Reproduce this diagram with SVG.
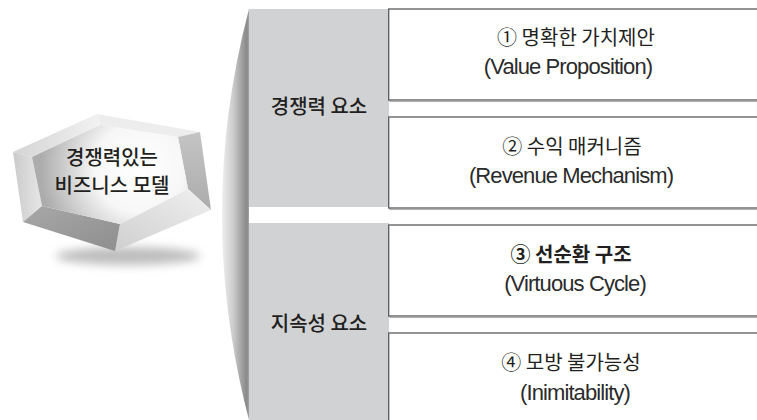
<svg xmlns="http://www.w3.org/2000/svg" width="757" height="420" viewBox="0 0 757 420">
  <defs>
    <style>
      .lbl { font-family: "Noto Sans CJK KR", "Noto Sans", sans-serif; fill: #231f20; text-anchor: middle; }
      .hexlbl { font-size: 20px; font-weight: 500; }
      .grp { font-size: 20px; font-weight: 500; }
      .ko { font-size: 20px; font-weight: 400; }
      .ko-b { font-size: 20px; font-weight: 700; }
      .en { font-family: "Liberation Sans", "Noto Sans", sans-serif; font-size: 22px; fill: #2b2b2b; text-anchor: middle; letter-spacing: -0.9px; }
      .panel { fill: #d1d2d4; }
      .box { fill: #ffffff; stroke: #5a5a5a; stroke-width: 1.3; }
      .boxshade { fill: none; stroke: #b4b4b4; stroke-width: 1.2; }
    </style>
    <linearGradient id="edgeShade" gradientUnits="userSpaceOnUse" x1="220" y1="0" x2="249" y2="0">
      <stop offset="0" stop-color="#f4f4f4"/>
      <stop offset="0.45" stop-color="#cdcdcd"/>
      <stop offset="0.8" stop-color="#9a9a9a"/>
      <stop offset="0.93" stop-color="#888888"/>
      <stop offset="1" stop-color="#a5a5a5"/>
    </linearGradient>
    <radialGradient id="faceGrad" gradientUnits="userSpaceOnUse" cx="140" cy="168" r="100">
      <stop offset="0" stop-color="#ffffff"/>
      <stop offset="0.45" stop-color="#f7f7f7"/>
      <stop offset="1" stop-color="#acacac"/>
    </radialGradient>
    <linearGradient id="leftFacet" x1="0" y1="0" x2="1" y2="0">
      <stop offset="0" stop-color="#cbcbcb"/>
      <stop offset="1" stop-color="#e6e6e6"/>
    </linearGradient>
    <linearGradient id="topFacet" x1="0" y1="0" x2="1" y2="0">
      <stop offset="0" stop-color="#d4d4d4"/>
      <stop offset="1" stop-color="#f2f2f2"/>
    </linearGradient>
    <linearGradient id="rightFacet" x1="0" y1="0" x2="0" y2="1">
      <stop offset="0" stop-color="#c4c4c4"/>
      <stop offset="1" stop-color="#acacac"/>
    </linearGradient>
    <linearGradient id="brFacet" x1="1" y1="0" x2="0" y2="1">
      <stop offset="0" stop-color="#f0f0f0"/>
      <stop offset="1" stop-color="#cfcfcf"/>
    </linearGradient>
    <linearGradient id="blFacet" x1="0" y1="0" x2="1" y2="1">
      <stop offset="0" stop-color="#a8a8a8"/>
      <stop offset="1" stop-color="#8e8e8e"/>
    </linearGradient>
    <filter id="softShadow" x="-30%" y="-100%" width="160%" height="300%">
      <feGaussianBlur stdDeviation="5"/>
    </filter>
  </defs>

  <rect width="757" height="420" fill="#ffffff"/>

  <!-- gem-shaped title badge -->
  <g id="node-model">
    <ellipse cx="128" cy="256" rx="72" ry="9" fill="#bdbdbd" filter="url(#softShadow)"/>
    <polygon points="13,152 32,157 42,206 23,222" fill="url(#leftFacet)"/>
    <polygon points="13,152 97,114 100,125 32,157" fill="url(#topFacet)"/>
    <polygon points="97,114 200,132 178,137 100,125" fill="#ededed"/>
    <polygon points="200,132 211,210 188,189 178,137" fill="url(#rightFacet)"/>
    <polygon points="211,210 115,251 120,224 188,189" fill="url(#brFacet)"/>
    <polygon points="115,251 23,222 42,206 120,224" fill="url(#blFacet)"/>
    <polygon points="32,157 100,125 178,137 188,189 120,224 42,206" fill="url(#faceGrad)"/>
    <text class="lbl hexlbl" x="112" y="165">경쟁력있는</text>
    <text class="lbl hexlbl" x="112" y="193">비즈니스 모델</text>
  </g>

  <!-- shaded curved edge joining the two groups -->
  <path d="M249,9 Q195,214 249,420 Z" fill="url(#edgeShade)"/>

  <!-- group panels -->
  <g id="node-competitive">
    <rect class="panel" x="249" y="9" width="140" height="198"/>
    <text class="lbl grp" x="319" y="114">경쟁력 요소</text>
  </g>
  <g id="node-sustainable">
    <rect class="panel" x="249" y="223" width="140" height="197"/>
    <text class="lbl grp" x="319" y="331">지속성 요소</text>
  </g>

  <!-- element boxes -->
  <g id="node-value">
    <rect class="boxshade" x="390" y="10.5" width="380" height="91"/>
    <rect class="box" x="388.7" y="9" width="380" height="91"/>
    <text class="lbl ko" x="576" y="45">① 명확한 가치제안</text>
    <text class="en" x="568" y="74">(Value Proposition)</text>
  </g>
  <g id="node-revenue">
    <rect class="boxshade" x="390" y="118.5" width="380" height="91"/>
    <rect class="box" x="388.7" y="117" width="380" height="91"/>
    <text class="lbl ko" x="572" y="154">② 수익 매커니즘</text>
    <text class="en" x="571" y="183">(Revenue Mechanism)</text>
  </g>
  <g id="node-cycle">
    <rect class="boxshade" x="390" y="226.5" width="380" height="91"/>
    <rect class="box" x="388.7" y="225" width="380" height="91"/>
    <text class="lbl ko-b" x="571" y="262">③ 선순환 구조</text>
    <text class="en" x="575" y="291">(Virtuous Cycle)</text>
  </g>
  <g id="node-inimitability">
    <rect class="boxshade" x="390" y="334.5" width="380" height="100"/>
    <rect class="box" x="388.7" y="333" width="380" height="100"/>
    <text class="lbl ko" x="571" y="370">④ 모방 불가능성</text>
    <text class="en" x="575" y="400">(Inimitability)</text>
  </g>

  <g id="connectors"></g>
</svg>
